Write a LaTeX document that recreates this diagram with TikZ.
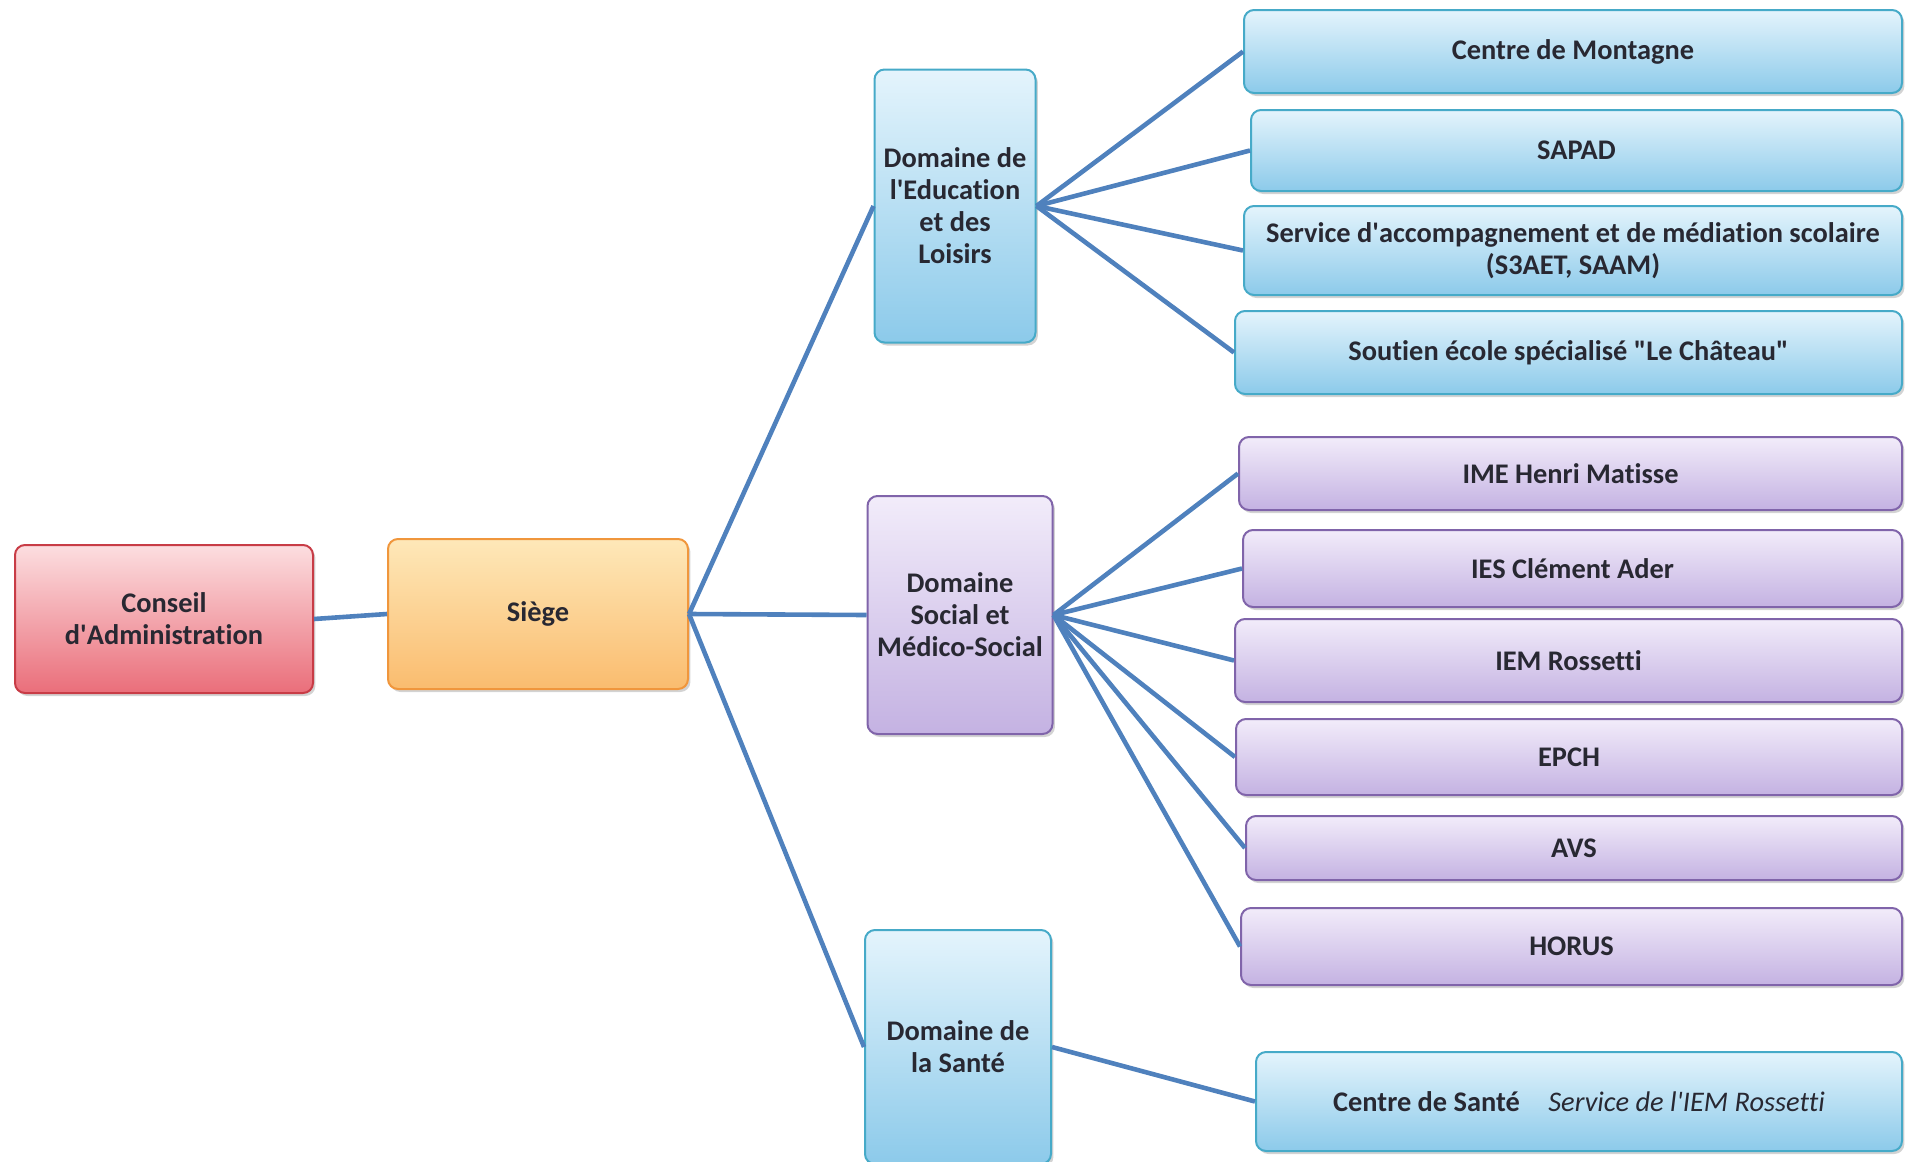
\documentclass[tikz,border=0pt]{standalone}
\usepackage{fontspec}
\setmainfont{Carlito}[Ligatures=NoCommon]
\usetikzlibrary{shadows}

\definecolor{linkblue}{RGB}{79,129,189}
\definecolor{textgrey}{RGB}{40,40,50}
\definecolor{redline}{RGB}{200,60,70}
\definecolor{redtop}{RGB}{252,222,224}
\definecolor{redbot}{RGB}{234,110,122}
\definecolor{orangeline}{RGB}{240,150,60}
\definecolor{orangetop}{RGB}{254,232,185}
\definecolor{orangebot}{RGB}{250,188,110}
\definecolor{blueline}{RGB}{70,170,200}
\definecolor{bluetop}{RGB}{228,244,252}
\definecolor{bluebot}{RGB}{140,202,234}
\definecolor{purpleline}{RGB}{128,100,170}
\definecolor{purpletop}{RGB}{242,236,250}
\definecolor{purplebot}{RGB}{196,178,226}

\newcommand{\apos}{\textquotesingle}

\begin{document}
\begin{tikzpicture}[x=0.5pt, y=-0.5pt,
                    every node/.style={rounded corners=5pt,
                                       line width=1pt,
                                       align=center,
                                       text=textgrey,
                                       font=\bfseries\fontsize{14.2}{16}\selectfont,
                                       drop shadow={shadow xshift=1.2pt,
                                                    shadow yshift=-1.5pt,
                                                    opacity=0.35}},
                    redbox/.style={draw=redline, top color=redtop, bottom color=redbot},
                    orangebox/.style={draw=orangeline, top color=orangetop, bottom color=orangebot},
                    bluebox/.style={draw=blueline, top color=bluetop, bottom color=bluebot},
                    purplebox/.style={draw=purpleline, top color=purpletop, bottom color=purplebot},
                    link/.style={draw=linkblue, line width=2.3pt}]
                      \useasboundingbox (0,0) rectangle (1912,1162);

                      % gauche
                      \node[redbox, minimum width=149pt, minimum height=74pt] (conseil) at (164, 619) {Conseil\\d\apos Administration};
                      \node[orangebox, minimum width=150pt, minimum height=75pt] (siege) at (538, 614) {Siège};

                      % domaines
                      \node[bluebox, minimum width=80.5pt, minimum height=136.5pt] (edu) at (955, 206) {Domaine de\\l\apos Education\\et des\\Loisirs};
                      \node[purplebox, minimum width=92.5pt, minimum height=119pt] (social) at (960, 615) {Domaine\\Social et\\Médico-Social};
                      \node[bluebox, minimum width=93pt, minimum height=117pt] (sante) at (958, 1047) {Domaine de\\la Santé};

                      % etablissements
                      \node[bluebox, minimum width=329pt, minimum height=41.5pt] (montagne) at (1573, 51.5) {Centre de Montagne};
                      \node[bluebox, minimum width=325.5pt, minimum height=40.5pt] (sapad) at (1576.5, 150.5) {SAPAD};
                      \node[bluebox, minimum width=329pt, minimum height=44.5pt] (service) at (1573, 250.5) {Service d\apos accompagnement et de médiation scolaire\\(S3AET, SAAM)};
                      \node[bluebox, minimum width=333.5pt, minimum height=41.5pt] (soutien) at (1568.5, 352.5) {Soutien école spécialisé \textquotedbl Le Château\textquotedbl};

                      \node[purplebox, minimum width=331.5pt, minimum height=36.5pt] (ime) at (1570.5, 473.5) {IME Henri Matisse};
                      \node[purplebox, minimum width=329.5pt, minimum height=38.5pt] (ies) at (1572.5, 568.5) {IES Clément Ader};
                      \node[purplebox, minimum width=333.5pt, minimum height=41.5pt] (iem) at (1568.5, 660.5) {IEM Rossetti};
                      \node[purplebox, minimum width=333pt, minimum height=38pt] (epch) at (1569, 757) {EPCH};
                      \node[purplebox, minimum width=328pt, minimum height=32pt] (avs) at (1574, 848) {AVS};
                      \node[purplebox, minimum width=330.5pt, minimum height=38.5pt] (horus) at (1571.5, 946.5) {HORUS};

                      \node[bluebox, minimum width=323pt, minimum height=49.5pt] (csante) at (1579, 1101.5) {Centre de Santé\quad\textit{\mdseries Service de l\apos IEM Rossetti}};

                      \foreach \i/\j in {conseil/siege, siege/edu, siege/social, siege/sante,
                                         edu/montagne, edu/sapad, edu/service, edu/soutien,
                                         social/ime, social/ies, social/iem, social/epch, social/avs, social/horus,
                                         sante/csante} {
                              \draw[link] (\i.east) -- (\j.west);
                          }
                  \end{tikzpicture}
\end{document}
